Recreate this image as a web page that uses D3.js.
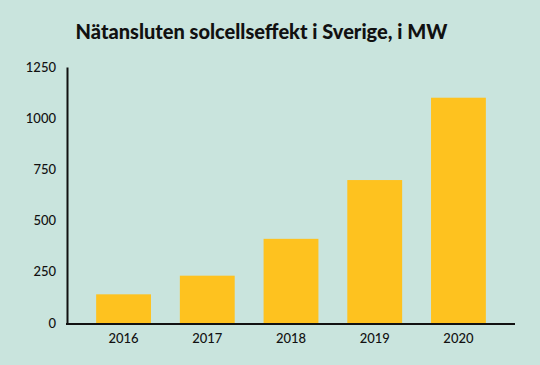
<!DOCTYPE html>
<html>
<head>
<meta charset="utf-8">
<script src="https://cdn.jsdelivr.net/npm/d3@7"></script>
<style>
  body { margin: 0; background: #c9e4dd; }
  svg { display: block; }
</style>
</head>
<body>
<script>
var years = ["2016", "2017", "2018", "2019", "2020"];
var capacityMW = [140, 231, 411, 698, 1100];
var yTicks = [0, 250, 500, 750, 1000, 1250];
var title = "Nätansluten solcellseffekt i Sverige, i MW";

var width = 540,
	height = 365;

var svg = d3.select("body")
			.append("svg")
			.attr("width", width)
			.attr("height", height)
			.style("background", "#c9e4dd");

var x = d3.scaleBand()
	.domain(years)
	.range([66, 516])
	.paddingInner(0.345)
	.paddingOuter(0.36);

var y = d3.scaleLinear()
	.domain([0, 1250])
	.range([323, 67]);

// title
svg.append("text")
	.attr("x", 261.5)
	.attr("y", 39)
	.attr("text-anchor", "middle")
	.style("font-family", "Lato, 'DejaVu Sans', sans-serif")
	.style("font-weight", "900")
	.style("font-size", "20px")
	.attr("fill", "#111")
	.text(title);

// bars
svg.selectAll("rect.bar")
	.data(years)
	.enter()
	.append("rect")
	.attr("class", "bar")
	.attr("x", function(d) { return x(d); })
	.attr("width", x.bandwidth())
	.attr("y", function(d, i) { return y(capacityMW[i]); })
	.attr("height", function(d, i) { return y(0) - y(capacityMW[i]); })
	.attr("fill", "#fec21f");

// y axis
var yAxis = svg.append("g")
	.attr("transform", "translate(67,0)")
	.call(d3.axisLeft(y).tickValues(yTicks).tickFormat(d3.format("d")).tickSize(0).tickPadding(11));
yAxis.select(".domain").attr("stroke", "#111").attr("stroke-width", 2);

// x axis
var xAxis = svg.append("g")
	.attr("transform", "translate(0,324)")
	.call(d3.axisBottom(x).tickSize(0).tickPadding(10));
xAxis.select(".domain")
	.attr("d", "M66,0H515")
	.attr("stroke", "#111").attr("stroke-width", 2);

svg.selectAll(".tick text")
	.style("font-family", "Lato, 'DejaVu Sans', sans-serif")
	.style("font-size", "13px")
	.style("font-weight", "500")
	.attr("fill", "#111");
</script>
</body>
</html>
